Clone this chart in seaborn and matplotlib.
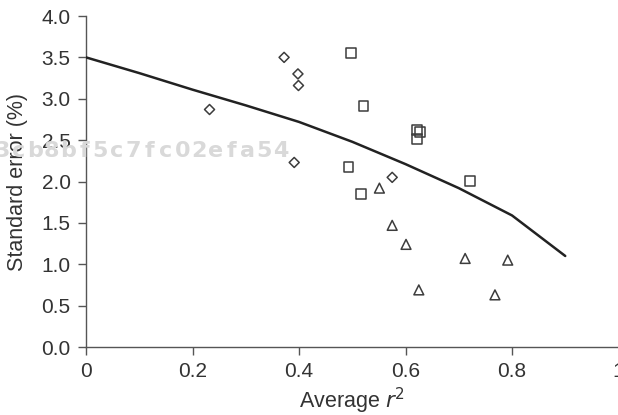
import matplotlib
matplotlib.use("Agg")
import matplotlib.pyplot as plt
import seaborn as sns

# Observed points, grouped by marker shape
diamond_r2 = [0.232, 0.372, 0.398, 0.399, 0.391, 0.575]
diamond_se = [2.87, 3.50, 3.30, 3.16, 2.23, 2.05]

square_r2 = [0.498, 0.521, 0.622, 0.627, 0.621, 0.493, 0.516, 0.721]
square_se = [3.55, 2.91, 2.62, 2.60, 2.51, 2.18, 1.85, 2.01]

triangle_r2 = [0.551, 0.575, 0.601, 0.712, 0.792, 0.625, 0.768]
triangle_se = [1.92, 1.47, 1.24, 1.07, 1.05, 0.69, 0.63]

# Reference curve
curve_r2 = [0.0, 0.1, 0.2, 0.3, 0.4, 0.5, 0.6, 0.7, 0.8, 0.9]
curve_se = [3.50, 3.31, 3.11, 2.92, 2.72, 2.48, 2.21, 1.92, 1.59, 1.10]

x_ticks = [0, 0.2, 0.4, 0.6, 0.8, 1.0]
x_tick_labels = ["0", "0.2", "0.4", "0.6", "0.8", "1"]
y_ticks = [0.0, 0.5, 1.0, 1.5, 2.0, 2.5, 3.0, 3.5, 4.0]
y_tick_labels = [f"{v:.1f}" for v in y_ticks]

watermark = "3cb8bf5c7fc02efa54"

sns.set_style("ticks")
plt.rcParams["font.family"] = ["Liberation Sans", "DejaVu Sans"]

W, H = 618, 415
fig = plt.figure(figsize=(W / 100, H / 100), dpi=100)
ax = fig.add_axes([86 / W, 1 - 347 / H, (618.5 - 86) / W, (347 - 16) / H])

# faint identifier string behind the plot, one evenly spaced cell per glyph
for i, ch in enumerate(watermark):
    fig.text((2 + i * 16.4) / W, 1 - 157 / H, ch, fontsize=16,
             fontweight="bold", family="DejaVu Sans", color="#d9d9d9",
             ha="center", va="baseline", zorder=0)

mk_color = "#3c3c3c"
sns.scatterplot(x=diamond_r2, y=diamond_se, marker="D", s=26,
                facecolor="none", edgecolor=mk_color, linewidth=1.1,
                ax=ax, zorder=3)
sns.scatterplot(x=square_r2, y=square_se, marker="s", s=50,
                facecolor="none", edgecolor=mk_color, linewidth=1.1,
                ax=ax, zorder=3)
sns.scatterplot(x=triangle_r2, y=triangle_se, marker="^", s=50,
                facecolor="none", edgecolor=mk_color, linewidth=1.1,
                ax=ax, zorder=3)
sns.lineplot(x=curve_r2, y=curve_se, color="#222222", linewidth=1.8,
             ax=ax, zorder=4)

ax.set_xlim(0, 1.0)
ax.set_ylim(0, 4.0)
ax.set_xticks(x_ticks)
ax.set_xticklabels(x_tick_labels)
ax.set_yticks(y_ticks)
ax.set_yticklabels(y_tick_labels)

spine_c = "#555555"
for side in ("top", "right"):
    ax.spines[side].set_visible(False)
for side in ("left", "bottom"):
    ax.spines[side].set_color(spine_c)
    ax.spines[side].set_linewidth(1.0)
ax.tick_params(axis="both", direction="out", length=6, width=1.0,
               color=spine_c, labelsize=15, labelcolor="#333333")
ax.tick_params(axis="y", pad=5)
ax.tick_params(axis="x", pad=5)

ax.set_xlabel("Average $r^2$", fontsize=15.5, color="#333333", labelpad=3)
ax.set_ylabel("Standard error (%)", fontsize=15.5, color="#333333",
              labelpad=10)
ax.patch.set_alpha(0)

fig.savefig("out.png", dpi=100)
